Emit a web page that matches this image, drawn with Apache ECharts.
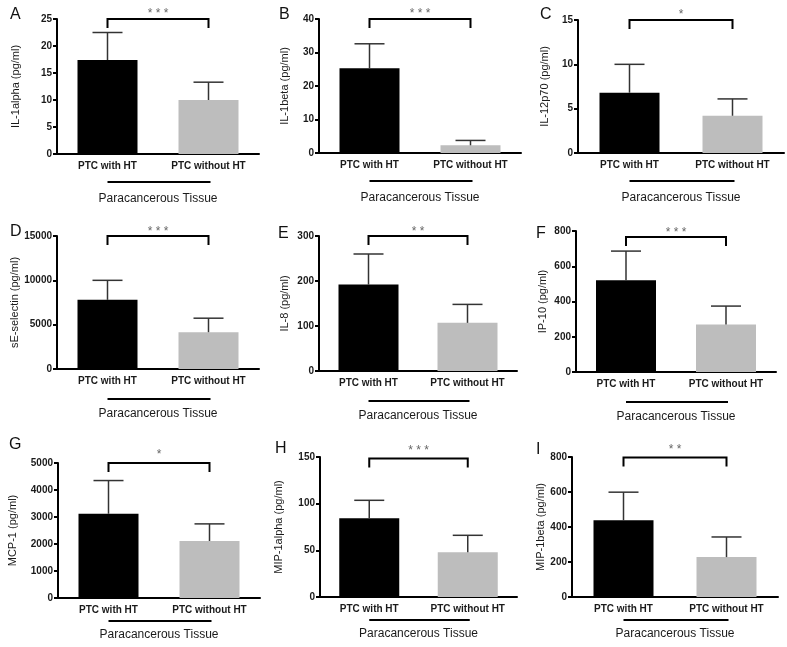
<!DOCTYPE html>
<html>
<head>
<meta charset="utf-8">
<script src="https://cdn.jsdelivr.net/npm/echarts@6/dist/echarts.min.js"></script>
<style>
  html, body { margin: 0; padding: 0; background: #fff; }
  #chart { width: 787px; height: 647px; }
</style>
</head>
<body>
<div id="chart"></div>
<script>
// data
const categories = ['PTC with HT', 'PTC without HT'];
const panelLetters = ['A', 'B', 'C', 'D', 'E', 'F', 'G', 'H', 'I'];
const yTitles = ['IL-1alpha (pg/ml)', 'IL-1beta (pg/ml)', 'IL-12p70 (pg/ml)',
                 'sE-selectin (pg/ml)', 'IL-8 (pg/ml)', 'IP-10 (pg/ml)',
                 'MCP-1 (pg/ml)', 'MIP-1alpha (pg/ml)', 'MIP-1beta (pg/ml)'];
const yMax  = [25, 40, 15, 15000, 300, 800, 5000, 150, 800];
const yStep = [5, 10, 5, 5000, 100, 200, 1000, 50, 200];
const means = [[17.4, 10.0], [25.3, 2.3], [6.8, 4.2],
               [7800, 4150], [192, 107], [520, 270],
               [3120, 2110], [84.3, 47.9], [438, 228]];
const sds   = [[5.1, 3.3], [7.3, 1.45], [3.2, 1.9],
               [2200, 1580], [68, 41], [166, 104],
               [1230, 635], [19.3, 18.2], [161, 115]];
const bracketLevel = [25, 40, 15, 15000, 300, 766, 5000, 148.5, 797];
const stars = ['* * *', '* * *', '*', '* * *', '* *', '* * *', '*', '* * *', '* *'];

// layout of the 3x3 panels (pixels)
const gridBoxes = [
  [57, 19, 202, 135], [319, 19, 202, 134], [578, 20, 206, 133],
  [57, 236, 202, 133], [319, 236, 198, 135], [576, 231, 200, 141],
  [58, 463, 202, 135], [320, 457, 197, 140], [572, 457, 206, 140]
];
const yNameGaps = [36, 29, 28, 37, 29, 28, 40, 36, 26];
const letterPos = [[10, 7], [279, 7], [540, 7], [10, 224], [278, 226], [536, 226], [9, 437], [275, 441], [536, 442]];
const rowUnderline = [28, 30, 23];
const rowNameGap = [39, 39, 31];
const rowStarGap = [5, 4, 8];

const barColors = ['#000000', '#bdbdbd'];
const textColor = '#1a1a1a';

const grids = [], xAxes = [], yAxes = [], series = [], titles = [];

for (let i = 0; i < 9; i++) {
  const row = Math.floor(i / 3);
  const b = gridBoxes[i];
  grids.push({ left: b[0], top: b[1], width: b[2], height: b[3] });

  titles.push({
    text: panelLetters[i], left: letterPos[i][0], top: letterPos[i][1], padding: 0,
    textStyle: { fontSize: 16, fontWeight: 'normal', color: '#111', fontFamily: 'Liberation Sans' }
  });

  xAxes.push({
    type: 'category', gridIndex: i, data: categories,
    axisLine: { lineStyle: { color: '#000', width: 2 } },
    axisTick: { alignWithLabel: true, length: 4, lineStyle: { color: '#000', width: 2 } },
    axisLabel: { interval: 0, color: textColor, fontWeight: 'bold', fontSize: 10, margin: 7, fontFamily: 'Liberation Sans' },
    name: 'Paracancerous Tissue', nameLocation: 'middle', nameGap: rowNameGap[row], nameMoveOverlap: false,
    nameTextStyle: { color: textColor, fontSize: 12, fontFamily: 'Liberation Sans' }
  });

  yAxes.push({
    type: 'value', gridIndex: i, min: 0, max: yMax[i], interval: yStep[i],
    splitLine: { show: false },
    axisLine: { show: true, lineStyle: { color: '#000', width: 2 } },
    axisTick: { show: true, length: 4, lineStyle: { color: '#000', width: 2 } },
    axisLabel: { color: textColor, fontWeight: 'bold', fontSize: 10, margin: 5, fontFamily: 'Liberation Sans',
                 formatter: v => String(v) },
    name: yTitles[i], nameLocation: 'middle', nameGap: yNameGaps[i], nameRotate: 90, nameMoveOverlap: false,
    nameTextStyle: { color: textColor, fontSize: 11, fontFamily: 'Liberation Sans' }
  });

  series.push({
    type: 'bar', xAxisIndex: i, yAxisIndex: i, barWidth: 60, silent: true,
    data: means[i].map((v, k) => ({ value: v, itemStyle: { color: barColors[k] } }))
  });

  // upper error bars
  series.push({
    type: 'custom', xAxisIndex: i, yAxisIndex: i, silent: true, z: 3,
    data: means[i].map((v, k) => [k, v, v + sds[i][k]]),
    encode: { x: 0, y: [1, 2] },
    renderItem: function (params, api) {
      const lo = api.coord([api.value(0), api.value(1)]);
      const hi = api.coord([api.value(0), api.value(2)]);
      const st = { stroke: '#333', lineWidth: 1.5 };
      return {
        type: 'group', children: [
          { type: 'line', shape: { x1: lo[0], y1: lo[1], x2: hi[0], y2: hi[1] }, style: st },
          { type: 'line', shape: { x1: hi[0] - 15, y1: hi[1], x2: hi[0] + 15, y2: hi[1] }, style: st }
        ]
      };
    }
  });

  // significance bracket, stars and the tissue underline
  series.push({
    type: 'custom', xAxisIndex: i, yAxisIndex: i, silent: true, clip: false, z: 4,
    data: [[0, bracketLevel[i]]],
    encode: { x: 0, y: 1 },
    renderItem: function (params, api) {
      const top = api.value(1);
      const p0 = api.coord([0, top]);
      const p1 = api.coord([1, top]);
      const base = api.coord([0, 0]);
      const mid = (p0[0] + p1[0]) / 2;
      const uy = base[1] + rowUnderline[row];
      return {
        type: 'group', children: [
          { type: 'polyline', shape: { points: [[p0[0], p0[1] + 9], [p0[0], p0[1]], [p1[0], p1[1]], [p1[0], p1[1] + 9]] },
            style: { stroke: '#000', lineWidth: 2, fill: null } },
          { type: 'text', style: { text: stars[i], x: mid, y: p0[1] - rowStarGap[row], align: 'center', verticalAlign: 'middle',
            fontSize: 12, fill: '#666', fontFamily: 'Liberation Sans' } },
          { type: 'line', shape: { x1: p0[0], y1: uy, x2: p1[0] + 2, y2: uy }, style: { stroke: '#000', lineWidth: 2 } }
        ]
      };
    }
  });
}

const chart = echarts.init(document.getElementById('chart'), null, { renderer: 'canvas' });
chart.setOption({
  backgroundColor: '#fff',
  animation: false,
  title: titles,
  grid: grids,
  xAxis: xAxes,
  yAxis: yAxes,
  series: series
});
</script>
</body>
</html>
